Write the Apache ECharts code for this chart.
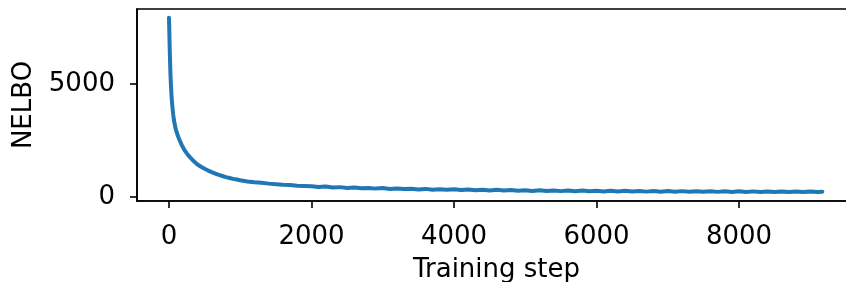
<!DOCTYPE html>
<html>
<head>
<meta charset="utf-8">
<script src="https://cdn.jsdelivr.net/npm/echarts@6/dist/echarts.min.js"></script>
<style>html,body{margin:0;padding:0;background:#fff}#c{width:846px;height:282px}</style>
</head>
<body>
<div id="c"></div>
<script>
const steps = [0,4,8,12,16,20,25,30,35,40,50,60,70,80,90,100,115,130,145,160,180,200,225,250,275,300,330,360,400,450,500,550,600,650,700,750,800,850,900,950,
1000,1100,1200,1300,1400,1500,1600,1700,1800,1900,
2000,2100,2200,2300,2400,2500,2600,2700,2800,2900,
3000,3100,3200,3300,3400,3500,3600,3700,3800,3900,
4000,4100,4200,4300,4400,4500,4600,4700,4800,4900,
5000,5100,5200,5300,5400,5500,5600,5700,5800,5900,
6000,6100,6200,6300,6400,6500,6600,6700,6800,6900,
7000,7100,7200,7300,7400,7500,7600,7700,7800,7900,
8000,8100,8200,8300,8400,8500,8600,8700,8800,8900,
9000,9100,9170];
const nelbo = [7930,7400,6850,6350,5900,5500,5100,4800,4520,4280,3920,3630,3400,3220,3075,2950,2800,2665,2545,2435,2295,2170,2040,1930,1830,1740,1640,1550,1440,1340,1250,1170,1100,1035,978,928,882,842,803,772,
738,690,654,628,592,566,543,527,500,489,
478,440,462,421,437,398,425,384,402,371,
395,352,377,349,366,330,359,322,346,318,
341,305,333,298,322,289,316,284,310,276,
302,270,297,266,291,260,288,254,283,251,
279,246,276,243,272,240,269,238,265,236,
262,233,260,231,257,229,255,227,253,225,
251,223,249,222,247,220,246,219,244,218,
243,217,232];
const xTicks = [0,2000,4000,6000,8000];
const yTicks = [0,5000];
const xName = 'Training step';
const yName = 'NELBO';

const FONT = 'DejaVu Sans';
const FS = 26;
const chart = echarts.init(document.getElementById('c'), null, {renderer:'canvas'});
chart.setOption({
  animation:false,
  backgroundColor:'#fff',
  grid:{left:137, right:-10, top:9, bottom:81, show:true, borderColor:'#000', borderWidth:1.6, backgroundColor:'transparent', containLabel:false, outerBoundsMode:'none'},
  xAxis:{
    type:'value', min:-449, max:9642,
    name:xName, nameLocation:'middle', nameGap:56,
    nameTextStyle:{fontFamily:FONT, fontSize:FS, color:'#000'},
    axisLine:{show:true, onZero:false, lineStyle:{color:'#000', width:1.6}},
    axisTick:{show:true, length:7, lineStyle:{color:'#000', width:1.6}, customValues:xTicks},
    axisLabel:{fontFamily:FONT, fontSize:FS, color:'#000', margin:23, customValues:xTicks, formatter:v=>String(v)},
    splitLine:{show:false}
  },
  yAxis:{
    type:'value', min:-177, max:8319,
    name:yName, nameLocation:'middle', nameGap:100, nameRotate:90,
    nameTextStyle:{fontFamily:FONT, fontSize:FS, color:'#000'},
    axisLine:{show:true, onZero:false, lineStyle:{color:'#000', width:1.6}},
    axisTick:{show:true, length:7, lineStyle:{color:'#000', width:1.6}, customValues:yTicks},
    axisLabel:{fontFamily:FONT, fontSize:FS, color:'#000', margin:22, customValues:yTicks, formatter:v=>String(v)},
    splitLine:{show:false}
  },
  series:[{
    type:'line', data:steps.map((s,i)=>[s,nelbo[i]]),
    showSymbol:false, symbol:'none', smooth:false,
    lineStyle:{color:'#1f77b4', width:4, join:'round', cap:'round'},
    clip:true
  }]
});
</script>
</body>
</html>
